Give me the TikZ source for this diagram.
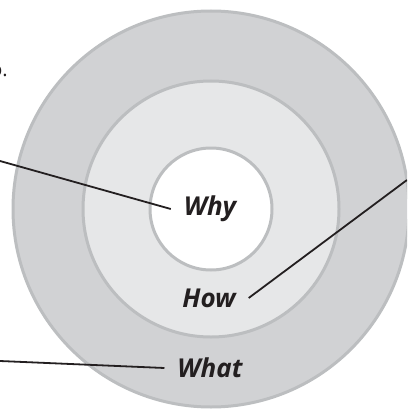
\documentclass[tikz,border=0pt]{standalone}
\usepackage{fontspec}
\setsansfont{Open Sans}
\usetikzlibrary{positioning}

\definecolor{ringouter}{HTML}{D1D2D4}
\definecolor{ringmiddle}{HTML}{E6E7E8}
\definecolor{ringedge}{HTML}{BCBEC0}
\definecolor{leadink}{HTML}{231F20}

\begin{document}
\begin{tikzpicture}[x=1pt,y=-1pt,
  ring/.style={draw=ringedge,line width=3pt},
  ringlabel/.style={text=leadink,font=\sffamily\bfseries\itshape\fontsize{26}{30}\selectfont,
    inner sep=1pt,outer sep=12pt},
  leader/.style={draw=leadink,line width=1.8pt}]
\useasboundingbox (0,0) rectangle (407,409);
\clip (0,0) rectangle (407,409);
% the three rings
\coordinate (centre) at (211,209);
\draw[ring,fill=ringouter] (centre) circle[radius=198];
\draw[ring,fill=ringmiddle] (centre) circle[radius=128];
\draw[ring,fill=white] (centre) circle[radius=61];
% cut-off text at the left margin
\node[text=leadink,font=\sffamily\fontsize{20}{24}\selectfont,anchor=base east,inner sep=0pt]
  (cut) at (8,77) {o.};
% labels
\node[ringlabel] (why) at (210,209) {Why};
\node[ringlabel] (how) at (209,298) {How};
\node[ringlabel] (what) at (210,368) {What};
% leaders come in from the edges
\coordinate (whyEnd) at (0,161);
\coordinate (howEnd) at (407,180);
\coordinate (whatEnd) at (0,361);
\draw[leader] (whyEnd) -- (why.west);
\draw[leader] (howEnd) -- (how.east);
\draw[leader] (whatEnd) -- (what.west);
\end{tikzpicture}
\end{document}
